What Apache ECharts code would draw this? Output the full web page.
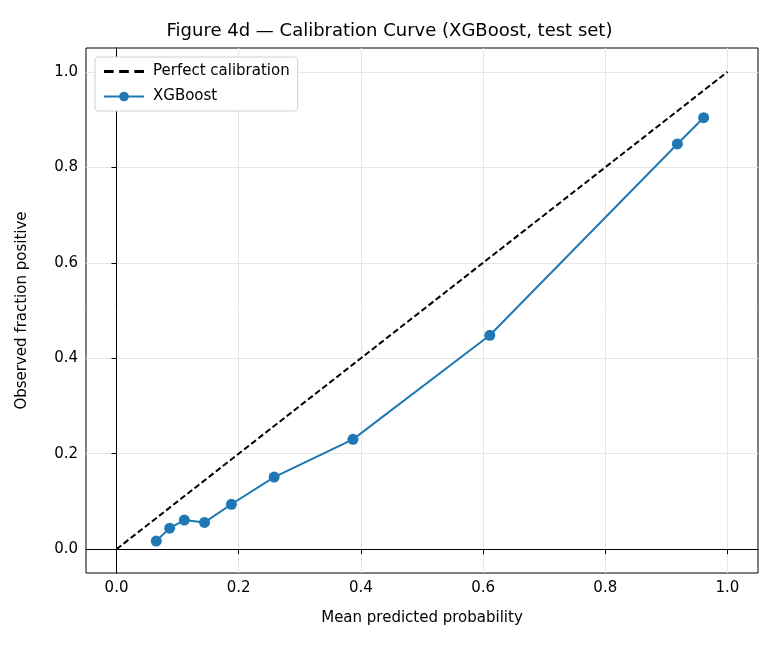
<!DOCTYPE html>
<html><head><meta charset="utf-8">
<script src="https://cdn.jsdelivr.net/npm/echarts@6/dist/echarts.min.js"></script>
<style>html,body{margin:0;padding:0;background:#fff}#c{width:779px;height:650px}</style>
</head><body><div id="c"></div>
<script>
const predX = [0.065, 0.087, 0.111, 0.144, 0.188, 0.258, 0.387, 0.611, 0.918, 0.961];
const obsY  = [0.017, 0.044, 0.061, 0.056, 0.094, 0.151, 0.230, 0.448, 0.849, 0.904];
const perfect = [[0,0],[1,1]];
const ticks = [0, 0.2, 0.4, 0.6, 0.8, 1.0];
const font = 'DejaVu Sans';
const chart = echarts.init(document.getElementById('c'));
function ax(extra){
  return Object.assign({
    min: -0.05, max: 1.05,
    axisLine: {show: true, lineStyle: {color: '#000'}},
    axisTick: {show: true, length: 5, lineStyle: {color: '#000'}, customValues: ticks},
    splitLine: {show: false},
    axisLabel: {color: '#000', fontFamily: font, fontSize: 15, customValues: ticks, formatter: v => v.toFixed(1)},
    nameTextStyle: {color: '#000', fontFamily: font, fontSize: 15},
    nameLocation: 'middle'
  }, extra);
}
const dashIcon = 'path://M0,0 L7,0 L7,2 L0,2 Z M11,0 L18,0 L18,2 L11,2 Z M22,0 L29,0 L29,2 L22,2 Z';
chart.setOption({
  animation: false,
  title: {text: 'Figure 4d — Calibration Curve (XGBoost, test set)', left: 'center', top: 17,
    textStyle: {fontFamily: font, fontSize: 18, fontWeight: 'normal', color: '#000'}},
  grid: {left: 86, right: 21, top: 48, bottom: 77, show: true, borderColor: '#000', borderWidth: 1},
  legend: {left: 95, top: 57, orient: 'vertical', itemGap: 10, itemWidth: 40, itemHeight: 12,
    backgroundColor: '#fff', borderColor: '#d0d0d0', borderWidth: 1, borderRadius: 3, padding: [7, 8, 7, 8],
    textStyle: {fontFamily: font, fontSize: 15, color: '#000', padding: [0, 0, 0, 4]},
    data: [{name: 'Perfect calibration', icon: dashIcon, itemStyle: {color: '#000'}}, 'XGBoost']},
  xAxis: ax({type: 'value', name: 'Mean predicted probability', nameGap: 38}),
  yAxis: ax({type: 'value', name: 'Observed fraction positive', nameGap: 56}),
  series: [
    {type: 'line', data: [], z: 0, markLine: {silent: true, symbol: 'none', label: {show: false}, z: 0,
      lineStyle: {color: '#e6e6e6', type: 'solid', width: 1},
      data: ticks.map(t => ({xAxis: t})).concat(ticks.map(t => ({yAxis: t})))}},
    {name: 'Perfect calibration', type: 'line', data: perfect, symbol: 'none', z: 5,
      lineStyle: {color: '#000', width: 2, type: [6, 3]}, itemStyle: {color: '#000'}},
    {name: 'XGBoost', type: 'line', data: predX.map((x, i) => [x, obsY[i]]), z: 6,
      symbol: 'circle', symbolSize: 11, lineStyle: {color: '#1f77b4', width: 2},
      itemStyle: {color: '#1f77b4'}}
  ]
});
</script></body></html>
